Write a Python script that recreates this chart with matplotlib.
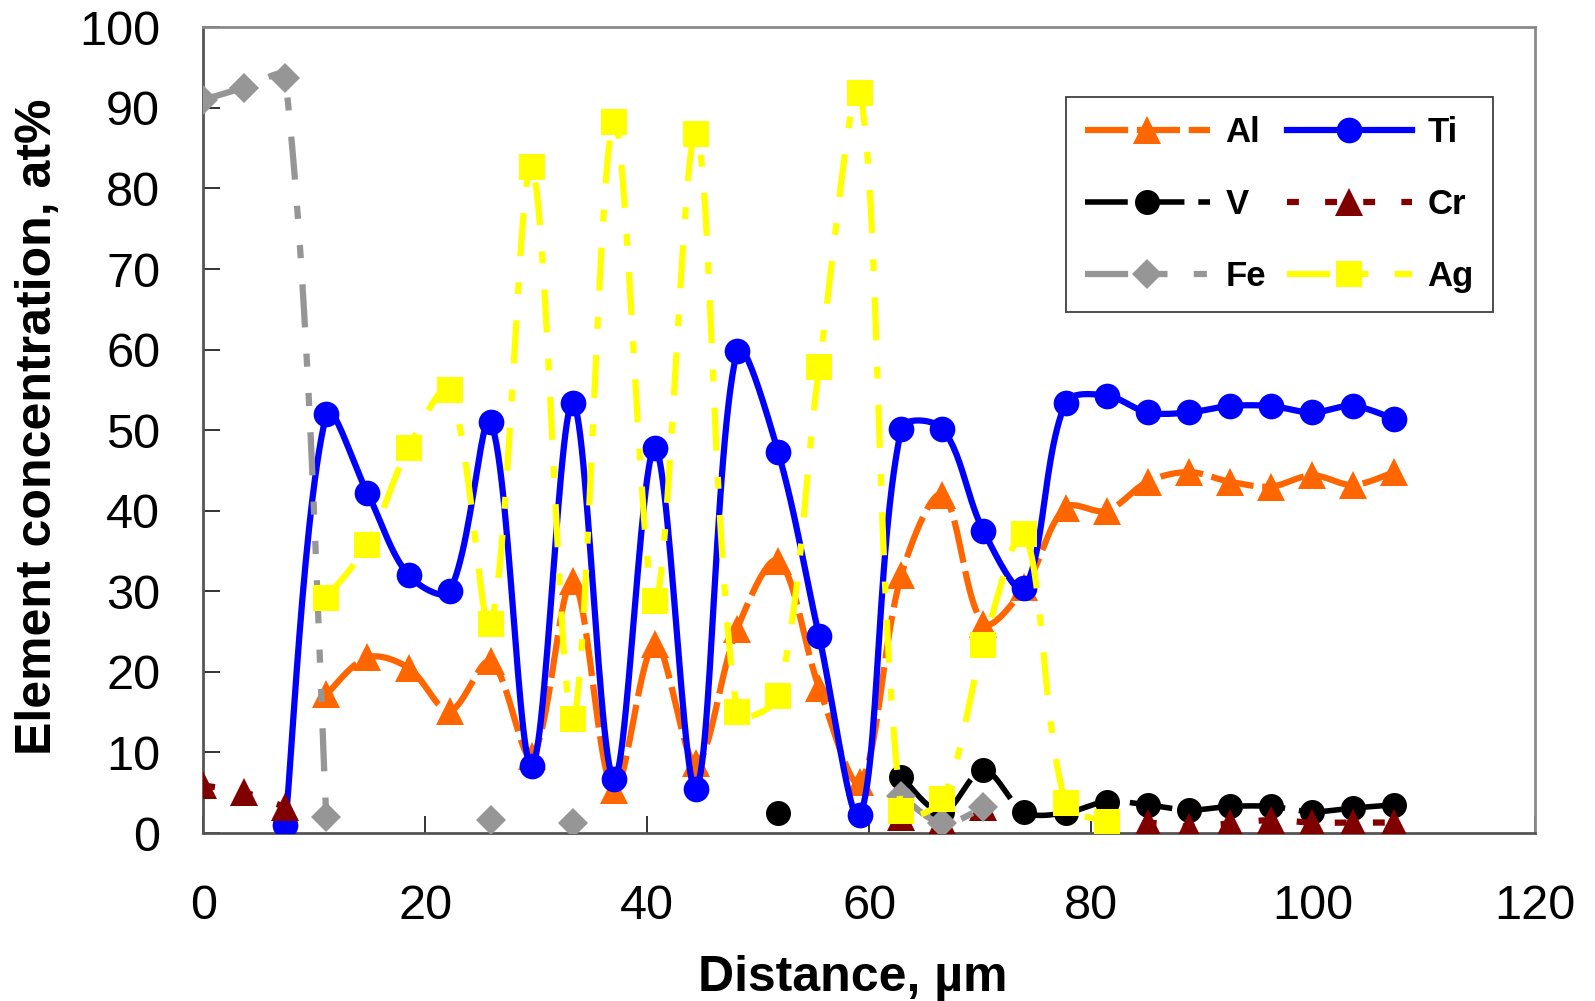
import numpy as np
import matplotlib
matplotlib.use("Agg")
import matplotlib.pyplot as plt
from matplotlib.lines import Line2D

plt.rcParams['font.family'] = ['Liberation Sans', 'DejaVu Sans']

nan = np.nan
distance = [0, 3.7, 7.4, 11.1, 14.8, 18.5, 22.2, 25.9, 29.6, 33.3, 37.0, 40.7, 44.4,
            48.1, 51.8, 55.5, 59.2, 62.9, 66.6, 70.3, 74.0, 77.7, 81.4, 85.1, 88.8,
            92.5, 96.2, 99.9, 103.6, 107.3]

al = [nan, nan, nan, 17.2, 21.8, 20.5, 15.2, 21.3, 9.5, 31.3, 5.3, 23.5, 8.7, 25.3,
      33.8, 18.0, 6.3, 32.0, 42.0, 26.0, 30.5, 40.4, 40.0, 43.6, 44.8, 43.6, 43.0,
      44.4, 43.2, 44.8]
ti = [nan, nan, 1.0, 52.0, 42.2, 32.0, 30.0, 51.0, 8.3, 53.4, 6.7, 47.8, 5.5, 59.8,
      47.3, 24.4, 2.2, 50.2, 50.2, 37.5, 30.4, 53.4, 54.3, 52.2, 52.2, 53.0, 53.0,
      52.2, 53.0, 51.4]
v = [nan, nan, nan, nan, nan, nan, nan, nan, nan, nan, nan, nan, nan, nan,
     2.5, nan, nan, 7.0, 2.6, 7.8, 2.6, 2.5, 3.9, 3.5, 2.85, 3.3, 3.3, 2.65, 3.1, 3.5]
cr = [5.9, 5.05, 3.2, nan, nan, nan, nan, nan, nan, nan, nan, nan, nan, nan,
      nan, nan, nan, 2.0, 1.5, 3.2, nan, nan, 1.2, 1.3, 0.8, 1.2, 1.6, 1.3, 1.3, 1.3]
fe = [91.0, 92.5, 93.7, 2.0, nan, nan, nan, 1.6, nan, 1.25, nan, nan, nan, nan,
      nan, nan, nan, 4.6, 1.2, 3.2, nan, nan, nan, nan, nan, nan, nan, nan, nan, nan]
ag = [nan, nan, nan, 29.2, 35.8, 47.8, 55.0, 26.0, 82.7, 14.2, 88.3, 28.8, 86.7, 15.0,
      17.0, 57.8, 91.9, 2.7, 4.2, 23.3, 37.1, 3.7, 1.4, nan, nan, nan, nan, nan, nan, nan]

labels = ['Al', 'Ti', 'V', 'Cr', 'Fe', 'Ag']
x_ticks = [0, 20, 40, 60, 80, 100, 120]
y_ticks = [0, 10, 20, 30, 40, 50, 60, 70, 80, 90, 100]

X_SCALE = 11.1   # screen px per x unit (used only for smoothing geometry)
Y_SCALE = 8.05   # screen px per y unit


def smooth_path(x, y, n=28):
    """Excel-like smoothed line: Bezier with tangents weighted by segment lengths."""
    x = np.asarray(x, float)
    y = np.asarray(y, float)
    ok = np.isfinite(y)
    xs, ys = [], []
    i = 0
    N = len(y)
    t = np.linspace(0, 1, n)
    while i < N:
        if not ok[i]:
            i += 1
            continue
        j = i
        while j + 1 < N and ok[j + 1]:
            j += 1
        if j > i:
            P = np.column_stack([x[i:j + 1] * X_SCALE, y[i:j + 1] * Y_SCALE])
            m = len(P)
            d = np.hypot(*(np.diff(P, axis=0).T))
            for k in range(m - 1):
                p1, p2 = P[k], P[k + 1]
                if k > 0:
                    c1 = p1 + (p2 - P[k - 1]) / 3.0 * d[k] / (d[k - 1] + d[k])
                else:
                    c1 = p1 + (p2 - p1) / 6.0
                if k + 2 < m:
                    c2 = p2 - (P[k + 2] - p1) / 3.0 * d[k] / (d[k] + d[k + 1])
                else:
                    c2 = p2 - (p2 - p1) / 6.0
                b = ((1 - t) ** 3)[:, None] * p1 + (3 * (1 - t) ** 2 * t)[:, None] * c1 \
                    + (3 * (1 - t) * t ** 2)[:, None] * c2 + (t ** 3)[:, None] * p2
                if k > 0:
                    b = b[1:]
                xs.extend(b[:, 0] / X_SCALE)
                ys.extend(b[:, 1] / Y_SCALE)
            xs.append(nan)
            ys.append(nan)
        i = j + 1
    return np.array(xs), np.array(ys)


fig = plt.figure(figsize=(15.95, 10.01), dpi=100)
ax = fig.add_axes([0.1274, 0.1678, 0.9624 - 0.1274, 0.9727 - 0.1678])

styles = [
    dict(data=al, color='#FF6600', lw=4.5, ls=(0, (6.9, 1.4)), marker='^', ms=20),
    dict(data=ti, color='#0000FF', lw=4.5, ls='-', marker='o', ms=18.5),
    dict(data=v, color='#000000', lw=4.0, ls=(0, (7.7, 2.5)), marker='o', ms=18),
    dict(data=cr, color='#800000', lw=4.5, ls=(0, (1.9, 4.2)), marker='^', ms=20),
    dict(data=fe, color='#969696', lw=4.5, ls=(0, (6.9, 4.2, 2.1, 4.2, 2.1, 4.2)), marker='D', ms=15),
    dict(data=ag, color='#FFFF00', lw=4.5, ls=(0, (6.9, 4.2, 1.9, 4.2)), marker='s', ms=18.5),
]

handles = []
for z, (lab, st) in enumerate(zip(labels, styles)):
    sx, sy = smooth_path(distance, st['data'])
    ax.plot(sx, sy, color=st['color'], lw=st['lw'], linestyle=st['ls'],
            solid_capstyle='round', zorder=3 + 2 * z)
    ax.plot(distance, st['data'], linestyle='none', marker=st['marker'],
            ms=st['ms'], mfc=st['color'], mec=st['color'], mew=0, zorder=4 + 2 * z)
    handles.append(Line2D([], [], color=st['color'], lw=st['lw'], linestyle=st['ls'],
                          marker=st['marker'], ms=st['ms'], mfc=st['color'],
                          mec=st['color'], mew=0))

ax.set_xlim(0, 120)
ax.set_ylim(0, 100)
ax.set_xticks(x_ticks)
ax.set_yticks(y_ticks)
ax.tick_params(axis='both', direction='in', length=12, width=1.4, colors='#333333',
               labelsize=35, labelcolor='black')
ax.tick_params(axis='y', pad=31)
ax.tick_params(axis='x', pad=37)

for side in ['left', 'bottom']:
    ax.spines[side].set_color('#555555')
    ax.spines[side].set_linewidth(2.0)
for side in ['top', 'right']:
    ax.spines[side].set_color('#8a8a8a')
    ax.spines[side].set_linewidth(2.0)

ax.set_xlabel('Distance, µm', fontsize=36, fontweight='bold')
ax.xaxis.set_label_coords(0.4876, -0.1955)
ax.xaxis.label.set_va('baseline')
ax.set_ylabel('Element concentration, at%', fontsize=36, fontweight='bold')
ax.yaxis.set_label_coords(-0.1143, 0.504)
ax.yaxis.label.set_va('baseline')

order = [0, 2, 4, 1, 3, 5]
leg = ax.legend([handles[i] for i in order], [labels[i] for i in order], ncol=2,
                loc='upper right', bbox_to_anchor=(0.9359, 0.9028),
                bbox_transform=fig.transFigure, borderaxespad=0,
                prop={'weight': 'bold', 'size': 25}, handlelength=3.6,
                handletextpad=0.45, columnspacing=0.6, labelspacing=1.12,
                borderpad=0.55, numpoints=1, fancybox=False, framealpha=1)
leg.get_frame().set_edgecolor('#404040')
leg.get_frame().set_linewidth(1.3)
leg.set_zorder(30)

fig.savefig('out.png', dpi=100)
